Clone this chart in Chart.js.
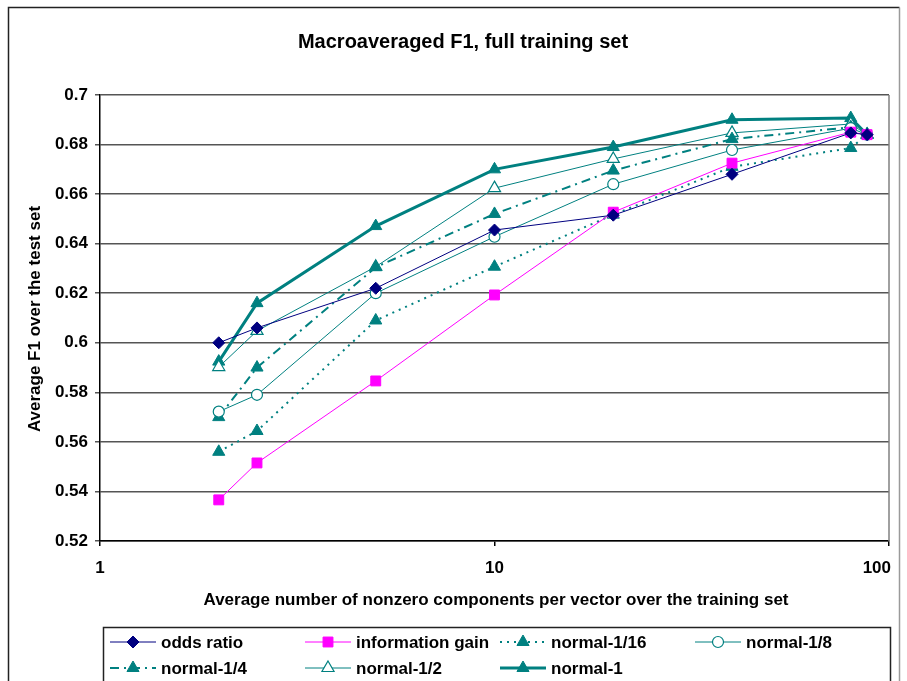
<!DOCTYPE html>
<html>
<head>
<meta charset="utf-8">
<script src="https://cdn.jsdelivr.net/npm/chart.js@4/dist/chart.umd.min.js"></script>
<style>
  html, body { margin: 0; padding: 0; background: #fff; }
  #wrap { width: 907px; height: 681px; position: relative; }
</style>
</head>
<body>
<div id="wrap"><canvas id="c" width="907" height="681"></canvas></div>
<script>
// Average nonzero components per vector (x) at each feature-selection level
const components = [2, 2.5, 5, 10, 20, 40, 80, 88];

// Macroaveraged F1 for each weighting scheme
const oddsRatio       = [0.600, 0.606, 0.622, 0.6455, 0.6515, 0.668, 0.6847, 0.684];
const informationGain = [0.5366, 0.5515, 0.5846, 0.6193, 0.6527, 0.6725, 0.6850, 0.684];
const normal16        = [0.556, 0.5644, 0.609, 0.6307, 0.6517, 0.671, 0.6786, 0.684];
const normal8         = [0.5722, 0.579, 0.620, 0.6428, 0.664, 0.6778, 0.6866, 0.684];
const normal4         = [0.570, 0.590, 0.6305, 0.652, 0.6695, 0.6822, 0.687, 0.684];
const normal2         = [0.5902, 0.6048, 0.6307, 0.6624, 0.6742, 0.6847, 0.6883, 0.684];
const normal1         = [0.5924, 0.616, 0.6471, 0.670, 0.679, 0.690, 0.6907, 0.684];

const seriesNames = ['odds ratio', 'information gain', 'normal-1/16', 'normal-1/8',
                     'normal-1/4', 'normal-1/2', 'normal-1'];
const xTickValues = [1, 10, 100];

const FONT = '"Liberation Sans", Arial, sans-serif';
const TEAL = '#008080';

const toPoints = arr => components.map((x, i) => ({ x: x, y: arr[i] }));

const datasets = [
  { label: seriesNames[0], data: toPoints(oddsRatio), borderColor: '#000080', backgroundColor: '#000080',
    borderWidth: 1, pointStyle: 'rectRot', pointRadius: 6, pointBorderWidth: 1 },
  { label: seriesNames[1], data: toPoints(informationGain), borderColor: '#FF00FF', backgroundColor: '#FF00FF',
    borderWidth: 1, pointStyle: 'rect', pointRadius: 7, pointBorderWidth: 1 },
  { label: seriesNames[2], data: toPoints(normal16), borderColor: TEAL, backgroundColor: TEAL,
    borderWidth: 2, borderDash: [2, 5], pointStyle: 'triangle', pointRadius: 7, pointBorderWidth: 1 },
  { label: seriesNames[3], data: toPoints(normal8), borderColor: TEAL, backgroundColor: '#ffffff',
    borderWidth: 1, pointStyle: 'circle', pointRadius: 5.5, pointBorderWidth: 1.2 },
  { label: seriesNames[4], data: toPoints(normal4), borderColor: TEAL, backgroundColor: TEAL,
    borderWidth: 2, borderDash: [9, 5, 2, 5], pointStyle: 'triangle', pointRadius: 7, pointBorderWidth: 1 },
  { label: seriesNames[5], data: toPoints(normal2), borderColor: TEAL, backgroundColor: '#ffffff',
    borderWidth: 1, pointStyle: 'triangle', pointRadius: 7, pointBorderWidth: 1.2 },
  { label: seriesNames[6], data: toPoints(normal1), borderColor: TEAL, backgroundColor: TEAL,
    borderWidth: 3, pointStyle: 'triangle', pointRadius: 7, pointBorderWidth: 1 }
];
datasets.forEach(d => {
  d.pointBorderColor = d.borderColor;
  d.pointBackgroundColor = d.backgroundColor;
  d.fill = false;
  d.tension = 0;
  d.pointHoverRadius = d.pointRadius;
});

// Keep the last x tick label inside the plot's right edge
const clampLastTick = {
  id: 'clampLastTick',
  beforeDraw(chart) {
    const xs = chart.scales.x;
    const items = xs.getLabelItems(chart.chartArea);
    if (items.length) {
      const last = items[items.length - 1];
      last.options.textAlign = 'right';
      last.options.translation[0] = chart.chartArea.right + 2;
    }
  }
};

// Frame, titles and boxed legend drawn around the plot
const decorations = {
  id: 'decorations',
  afterDraw(chart) {
    const ctx = chart.ctx;
    const a = chart.chartArea;
    ctx.save();

    // outer frame
    ctx.lineWidth = 1.5;
    ctx.strokeStyle = '#222';
    ctx.beginPath();
    ctx.moveTo(8.5, 690); ctx.lineTo(8.5, 7.5); ctx.lineTo(899.5, 7.5);
    ctx.stroke();
    ctx.strokeStyle = '#9a9a9a';
    ctx.beginPath();
    ctx.moveTo(899.5, 7.5); ctx.lineTo(899.5, 690);
    ctx.stroke();

    // right edge of plot area
    ctx.lineWidth = 1.5;
    ctx.strokeStyle = '#808080';
    ctx.beginPath();
    ctx.moveTo(a.right, a.top); ctx.lineTo(a.right, a.bottom);
    ctx.stroke();

    ctx.fillStyle = '#000';
    ctx.textAlign = 'center';
    ctx.textBaseline = 'middle';

    // chart title
    ctx.font = 'bold 20px ' + FONT;
    ctx.fillText('Macroaveraged F1, full training set', 463, 42);

    // axis titles
    ctx.font = 'bold 17px ' + FONT;
    ctx.fillText('Average number of nonzero components per vector over the training set', 496, 600);
    ctx.save();
    ctx.translate(35, 319);
    ctx.rotate(-Math.PI / 2);
    ctx.fillText('Average F1 over the test set', 0, 0);
    ctx.restore();

    // legend box
    ctx.lineWidth = 1.5;
    ctx.strokeStyle = '#222';
    ctx.strokeRect(103.5, 627.5, 787, 70);

    const colX = [110, 305, 500, 695];
    const rowY = [642, 668];
    ctx.font = 'bold 17px ' + FONT;
    ctx.textAlign = 'left';
    chart.data.datasets.forEach((ds, i) => {
      const col = i % 4, row = Math.floor(i / 4);
      const x0 = colX[col], y = rowY[row];
      const x1 = x0 + 46;
      ctx.save();
      ctx.strokeStyle = ds.borderColor;
      ctx.lineWidth = ds.borderWidth;
      ctx.setLineDash(ds.borderDash || []);
      ctx.beginPath();
      ctx.moveTo(x0, y); ctx.lineTo(x1, y);
      ctx.stroke();
      ctx.setLineDash([]);
      ctx.fillStyle = ds.pointBackgroundColor;
      ctx.strokeStyle = ds.pointBorderColor;
      ctx.lineWidth = ds.pointBorderWidth;
      Chart.helpers.drawPoint(ctx, {
        pointStyle: ds.pointStyle, radius: ds.pointRadius, rotation: 0, borderWidth: ds.pointBorderWidth
      }, (x0 + x1) / 2, y);
      ctx.restore();
      ctx.fillStyle = '#000';
      ctx.fillText(ds.label, x1 + 5, y + 1);
    });

    ctx.restore();
  }
};

new Chart(document.getElementById('c'), {
  type: 'line',
  data: { datasets: datasets },
  options: {
    responsive: false,
    animation: false,
    devicePixelRatio: 1,
    layout: { padding: { left: 0, top: 95, right: 18, bottom: 0 } },
    plugins: {
      legend: { display: false },
      title: { display: false },
      tooltip: { enabled: false }
    },
    scales: {
      x: {
        type: 'logarithmic',
        min: 1,
        max: 100,
        afterBuildTicks: scale => { scale.ticks = xTickValues.map(v => ({ value: v, major: true })); },
        afterFit: scale => {
          scale.height = 140;
          scale.paddingLeft = 0;
          scale.paddingRight = 0;
        },
        grid: { drawOnChartArea: false, drawTicks: true, tickLength: 5, color: '#000', lineWidth: 1.5 },
        border: { color: '#000', width: 1.5 },
        ticks: {
          autoSkip: false,
          maxRotation: 0,
          padding: 12,
          color: '#000',
          font: { family: FONT, size: 17, weight: 'bold' },
          callback: v => String(v)
        }
      },
      y: {
        min: 0.52,
        max: 0.7,
        afterFit: scale => {
          scale.width = 100;
          scale.paddingTop = 0;
          scale.paddingBottom = 0;
        },
        grid: { color: '#555', lineWidth: 1.5, tickLength: 5, drawTicks: true },
        border: { color: '#000', width: 1.5 },
        ticks: {
          stepSize: 0.02,
          padding: 7,
          color: '#000',
          font: { family: FONT, size: 17, weight: 'bold' },
          callback: v => String(+v.toFixed(2))
        }
      }
    }
  },
  plugins: [clampLastTick, decorations]
});
</script>
</body>
</html>
